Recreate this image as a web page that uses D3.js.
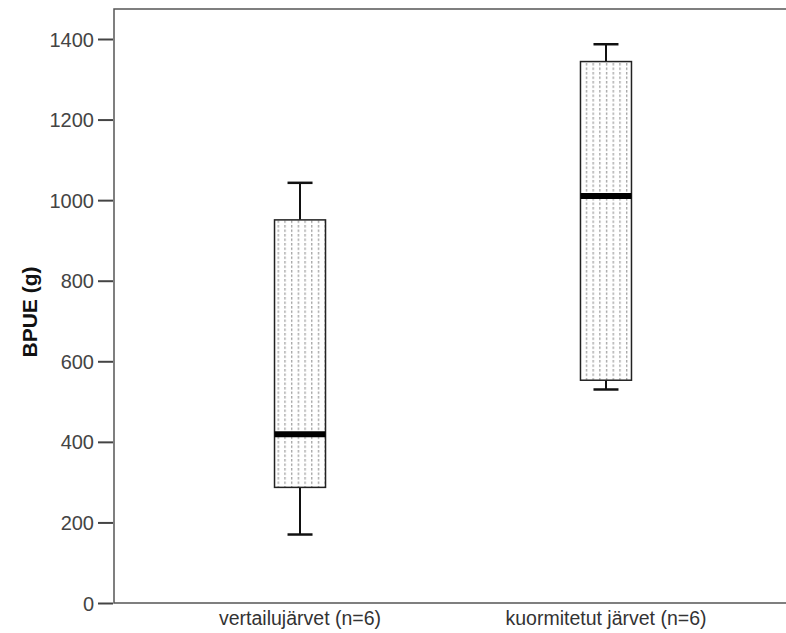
<!DOCTYPE html>
<html>
<head>
<meta charset="utf-8">
<script src="https://cdn.jsdelivr.net/npm/d3@7"></script>
<style>
  body { margin: 0; background: #fff; }
  text { font-family: Arial, "Liberation Sans", sans-serif; }
</style>
</head>
<body>
<svg width="786" height="633"></svg>
<script>
const groups = ['vertailujärvet (n=6)', 'kuormitetut järvet (n=6)'];
const whiskerLow = [170, 530];
const q1 = [287, 553];
const median = [419, 1010];
const q3 = [951, 1344];
const whiskerHigh = [1043, 1387];
const yTicks = [0, 200, 400, 600, 800, 1000, 1200, 1400];

const svg = d3.select('svg');
const plotLeft = 114, plotTop = 9, plotBottom = 603, plotRight = 792;

const y = d3.scaleLinear().domain([0, 1400]).range([plotBottom, 39]);
const x = d3.scalePoint().domain(groups).range([plotLeft, plotRight]).padding(0.608);
const boxW = 51, capW = 25;

// dotted fill pattern
const defs = svg.append('defs');
const pat = defs.append('pattern')
    .attr('id', 'dots')
    .attr('patternUnits', 'userSpaceOnUse')
    .attr('width', 6.7).attr('height', 4.5);
pat.append('rect').attr('x', 3).attr('y', 0).attr('width', 1.2).attr('height', 2.5).attr('fill', '#999');

// frame
svg.append('path')
    .attr('d', `M${plotRight},${plotTop}H${plotLeft}V${plotBottom}H${plotRight}`)
    .attr('fill', 'none').attr('stroke', '#555').attr('stroke-width', 1.5);

// y axis
const yAxis = svg.append('g')
    .attr('transform', `translate(${plotLeft},0)`)
    .call(d3.axisLeft(y).tickValues(yTicks).tickSize(16).tickPadding(4).tickFormat(d3.format('d')));
yAxis.select('.domain').remove();
yAxis.selectAll('.tick line').attr('stroke', '#444').attr('stroke-width', 2).attr('x1', -1);
yAxis.selectAll('.tick text').attr('fill', '#444').style('font-size', '20px').attr('dy', '0.35em');

svg.append('text')
    .attr('transform', `translate(37,312) rotate(-90)`)
    .attr('text-anchor', 'middle')
    .style('font-size', '21px').style('font-weight', 'bold')
    .attr('fill', '#111')
    .text('BPUE (g)');

// x labels
svg.append('g').selectAll('text').data(groups).enter().append('text')
    .attr('x', d => x(d)).attr('y', 625)
    .attr('text-anchor', 'middle')
    .style('font-size', '19.5px').attr('fill', '#333')
    .text(d => d);

// boxes
const box = svg.append('g').selectAll('g').data(groups).enter().append('g');

box.append('line')
    .attr('x1', d => x(d)).attr('x2', d => x(d))
    .attr('y1', (d, i) => y(whiskerHigh[i])).attr('y2', (d, i) => y(q3[i]))
    .attr('stroke', '#111').attr('stroke-width', 2);
box.append('line')
    .attr('x1', d => x(d)).attr('x2', d => x(d))
    .attr('y1', (d, i) => y(q1[i])).attr('y2', (d, i) => y(whiskerLow[i]))
    .attr('stroke', '#111').attr('stroke-width', 2);
box.append('line')
    .attr('x1', d => x(d) - capW / 2).attr('x2', d => x(d) + capW / 2)
    .attr('y1', (d, i) => y(whiskerHigh[i])).attr('y2', (d, i) => y(whiskerHigh[i]))
    .attr('stroke', '#111').attr('stroke-width', 2.5);
box.append('line')
    .attr('x1', d => x(d) - capW / 2).attr('x2', d => x(d) + capW / 2)
    .attr('y1', (d, i) => y(whiskerLow[i])).attr('y2', (d, i) => y(whiskerLow[i]))
    .attr('stroke', '#111').attr('stroke-width', 2.5);

box.append('rect')
    .attr('x', d => x(d) - boxW / 2).attr('width', boxW)
    .attr('y', (d, i) => y(q3[i])).attr('height', (d, i) => y(q1[i]) - y(q3[i]))
    .attr('fill', '#fff');
box.append('rect')
    .attr('x', d => x(d) - boxW / 2).attr('width', boxW)
    .attr('y', (d, i) => y(q3[i])).attr('height', (d, i) => y(q1[i]) - y(q3[i]))
    .attr('fill', 'url(#dots)').attr('stroke', '#222').attr('stroke-width', 1.5);

box.append('line')
    .attr('x1', d => x(d) - boxW / 2).attr('x2', d => x(d) + boxW / 2)
    .attr('y1', (d, i) => y(median[i])).attr('y2', (d, i) => y(median[i]))
    .attr('stroke', '#000').attr('stroke-width', 6);
</script>
</body>
</html>
